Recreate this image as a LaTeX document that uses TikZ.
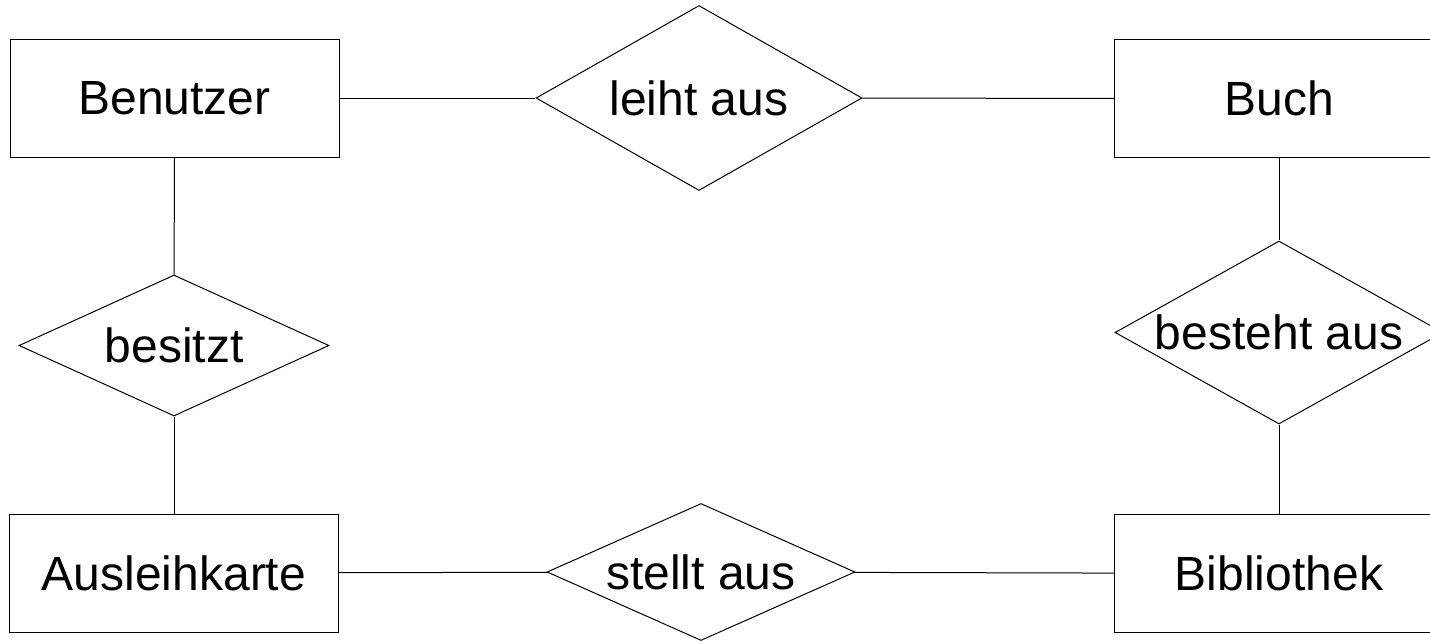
\documentclass[tikz,border=0pt]{standalone}
\usepackage{fontspec}
\setmainfont{Liberation Sans}
\usetikzlibrary{shapes.geometric, positioning}
\tikzset{
    entity/.style={draw, rectangle, minimum width=329pt, minimum height=118pt, inner sep=0pt},
    relation/.style={draw, diamond, inner sep=0pt},
}
\begin{document}
\begin{tikzpicture}[x=1pt, y=-1pt, line width=1pt, font=\fontsize{48}{58}\selectfont]
    \clip (0, 0) rectangle (1430, 643);
    % entities
    \node[entity] (benutzer) at (174.5, 98) {Benutzer};
    \node[entity] (buch) at (1279, 98.5) {Buch};
    \node[entity] (ausleihkarte) at (174, 573) {Ausleihkarte};
    \node[entity] (bibliothek) at (1279, 573.5) {Bibliothek};
    % relations
    \node[relation, minimum width=326pt, minimum height=185pt, label=center:leiht aus] (leihtaus) at (699, 98) {};
    \node[relation, minimum width=310pt, minimum height=141pt, label=center:besitzt] (besitzt) at (174, 345.5) {};
    \node[relation, minimum width=328pt, minimum height=183pt, label=center:besteht aus] (bestehtaus) at (1279, 332.5) {};
    \node[relation, minimum width=308pt, minimum height=137pt, label=center:stellt aus] (stelltaus) at (701, 572) {};
    % connectors
    \draw (benutzer) -- (leihtaus);
    \draw (leihtaus) -- (buch);
    \draw (benutzer) -- (besitzt);
    \draw (besitzt) -- (ausleihkarte);
    \draw (buch) -- (bestehtaus);
    \draw (bestehtaus) -- (bibliothek);
    \draw (ausleihkarte) -- (stelltaus);
    \draw (stelltaus) -- (bibliothek);
\end{tikzpicture}
\end{document}
